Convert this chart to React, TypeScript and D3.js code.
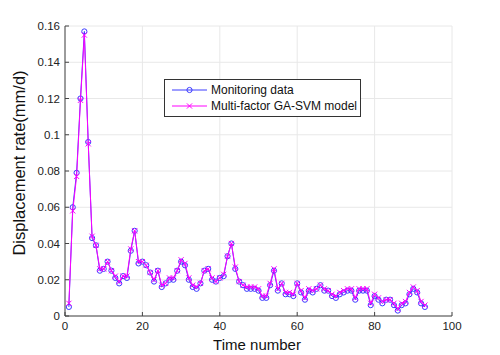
import React from "react";
import * as d3 from "d3";

const timeIndex: number[] = d3.range(1, 94);

const monitoringData: number[] = [
  0.005, 0.060, 0.079, 0.120, 0.157, 0.096, 0.043, 0.039, 0.025, 0.026,
  0.030, 0.025, 0.021, 0.018, 0.022, 0.021, 0.036, 0.047, 0.029, 0.030,
  0.028, 0.024, 0.019, 0.025, 0.016, 0.018, 0.020, 0.020, 0.025, 0.030,
  0.028, 0.020, 0.016, 0.015, 0.018, 0.025, 0.026, 0.020, 0.019, 0.021,
  0.022, 0.033, 0.040, 0.026, 0.019, 0.017, 0.015, 0.015, 0.015, 0.014,
  0.010, 0.010, 0.017, 0.025, 0.014, 0.018, 0.012, 0.012, 0.011, 0.018,
  0.013, 0.009, 0.014, 0.013, 0.015, 0.017, 0.014, 0.014, 0.011, 0.010,
  0.012, 0.013, 0.014, 0.014, 0.009, 0.014, 0.014, 0.014, 0.006, 0.011,
  0.009, 0.007, 0.009, 0.009, 0.006, 0.003, 0.006, 0.007, 0.012, 0.015,
  0.013, 0.007, 0.005,
];

const modelData: number[] = [
  0.007, 0.058, 0.077, 0.119, 0.155, 0.095, 0.044, 0.039, 0.026, 0.026,
  0.030, 0.025, 0.022, 0.019, 0.022, 0.022, 0.037, 0.047, 0.030, 0.030,
  0.028, 0.024, 0.020, 0.025, 0.017, 0.018, 0.021, 0.021, 0.025, 0.031,
  0.029, 0.021, 0.017, 0.016, 0.018, 0.025, 0.026, 0.021, 0.019, 0.021,
  0.023, 0.033, 0.040, 0.027, 0.019, 0.017, 0.016, 0.016, 0.016, 0.015,
  0.011, 0.011, 0.018, 0.026, 0.015, 0.018, 0.013, 0.013, 0.012, 0.018,
  0.014, 0.010, 0.015, 0.014, 0.015, 0.017, 0.015, 0.014, 0.012, 0.011,
  0.013, 0.014, 0.015, 0.015, 0.010, 0.015, 0.015, 0.015, 0.007, 0.012,
  0.010, 0.008, 0.009, 0.009, 0.007, 0.004, 0.007, 0.008, 0.013, 0.016,
  0.014, 0.008, 0.006,
];

const xTicks: number[] = [0, 20, 40, 60, 80, 100];
const yTicks: number[] = [0, 0.02, 0.04, 0.06, 0.08, 0.1, 0.12, 0.14, 0.16];
const seriesNames: string[] = ["Monitoring data", "Multi-factor GA-SVM model"];
const xLabel = "Time number";
const yLabel = "Displacement rate(mm/d)";

const W = 500;
const H = 355;
const FONT = "'Liberation Sans', Arial, sans-serif";
const BLUE = "#3c3cff";
const MAGENTA = "#ff00ff";

export default function App() {
  const x = d3.scaleLinear().domain([0, 100]).range([65, 452]);
  const y = d3.scaleLinear().domain([0, 0.16]).range([316, 26]);

  const line = d3
    .line<number>()
    .x((_, i) => x(timeIndex[i]))
    .y((d) => y(d));

  const fmt = (v: number) => String(+v.toFixed(2));
  const [x0, x1] = x.range();
  const [y0, y1] = y.range();
  const ms = 2.6;

  return (
    <svg
      width={W}
      height={H}
      style={{ position: "absolute", left: 0, top: 0, background: "#fff" }}
      fontFamily={FONT}
    >
      <rect x={0} y={0} width={W} height={H} fill="#fff" />
      {/* grid */}
      {xTicks.map((t) => (
        <line key={"gx" + t} x1={x(t)} x2={x(t)} y1={y0} y2={y1} stroke="#e8e8e8" strokeWidth={1} />
      ))}
      {yTicks.map((t) => (
        <line key={"gy" + t} x1={x0} x2={x1} y1={y(t)} y2={y(t)} stroke="#e8e8e8" strokeWidth={1} />
      ))}
      {/* axes */}
      <line x1={x0} x2={x1} y1={y0} y2={y0} stroke="#444" strokeWidth={1} />
      <line x1={x0} x2={x0} y1={y0} y2={y1} stroke="#444" strokeWidth={1} />
      {xTicks.map((t) => (
        <g key={"tx" + t}>
          <line x1={x(t)} x2={x(t)} y1={y0} y2={y0 - 4} stroke="#444" />
          <text x={x(t)} y={y0 + 14} textAnchor="middle" fontSize={11.5} fill="#222">
            {t}
          </text>
        </g>
      ))}
      {yTicks.map((t) => (
        <g key={"ty" + t}>
          <line x1={x0} x2={x0 + 4} y1={y(t)} y2={y(t)} stroke="#444" />
          <text x={x0 - 5} y={y(t) + 4} textAnchor="end" fontSize={11.5} fill="#222">
            {fmt(t)}
          </text>
        </g>
      ))}
      {/* axis labels */}
      <text x={257} y={350} textAnchor="middle" fontSize={15} fill="#111">
        {xLabel}
      </text>
      <text
        transform={`translate(25, ${163}) rotate(-90)`}
        textAnchor="middle"
        fontSize={16.5}
        fill="#111"
      >
        {yLabel}
      </text>
      {/* monitoring series */}
      <path d={line(monitoringData) || ""} fill="none" stroke={BLUE} strokeWidth={1} />
      {monitoringData.map((v, i) => (
        <circle key={"c" + i} cx={x(timeIndex[i])} cy={y(v)} r={ms} fill="none" stroke={BLUE} strokeWidth={1} />
      ))}
      {/* model series */}
      <path d={line(modelData) || ""} fill="none" stroke={MAGENTA} strokeWidth={1} />
      {modelData.map((v, i) => {
        const cx = x(timeIndex[i]);
        const cy = y(v);
        return (
          <path
            key={"m" + i}
            d={`M${cx - ms},${cy - ms}L${cx + ms},${cy + ms}M${cx - ms},${cy + ms}L${cx + ms},${cy - ms}`}
            stroke={MAGENTA}
            strokeWidth={1}
          />
        );
      })}
      {/* legend */}
      <g>
        <rect x={164.5} y={79.5} width={196} height={37} fill="#fff" stroke="#333" strokeWidth={1} />
        <line x1={172} x2={207} y1={90} y2={90} stroke={BLUE} />
        <circle cx={189.5} cy={90} r={ms} fill="none" stroke={BLUE} />
        <text x={211} y={94} fontSize={12} fill="#111">
          {seriesNames[0]}
        </text>
        <line x1={172} x2={207} y1={106} y2={106} stroke={MAGENTA} />
        <path
          d={`M${189.5 - ms},${106 - ms}L${189.5 + ms},${106 + ms}M${189.5 - ms},${106 + ms}L${189.5 + ms},${106 - ms}`}
          stroke={MAGENTA}
        />
        <text x={211} y={110} fontSize={12} fill="#111">
          {seriesNames[1]}
        </text>
      </g>
    </svg>
  );
}
